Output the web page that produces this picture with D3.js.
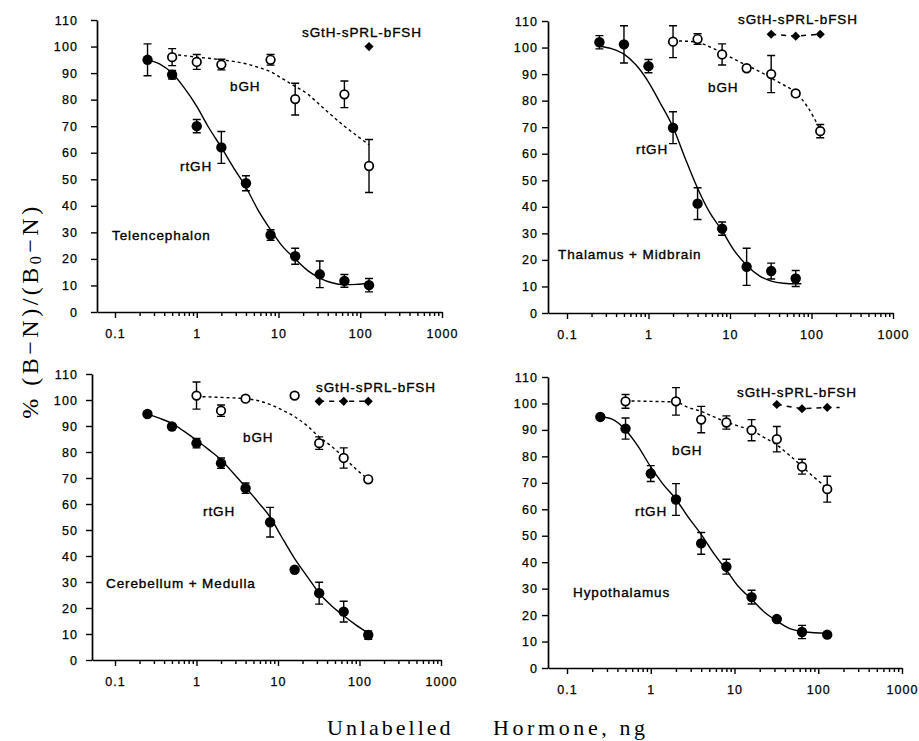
<!DOCTYPE html>
<html><head><meta charset="utf-8">
<script src="https://cdn.jsdelivr.net/npm/d3@7"></script>
<style>body{margin:0;background:#fff}svg{display:block}</style>
</head><body>
<svg id="chart" width="919" height="741"></svg>
<script>
// ---------- DATA ----------
const panelNames = ["Telencephalon", "Thalamus + Midbrain", "Cerebellum + Medulla", "Hypothalamus"];
const seriesNames = ["rtGH", "bGH", "sGtH-sPRL-bFSH"];
const xTickValues = [0.1, 1, 10, 100, 1000];
const xTickLabels = ["0.1", "1", "10", "100", "1000"];
const yTickValues = [0, 10, 20, 30, 40, 50, 60, 70, 80, 90, 100, 110];

// Telencephalon
const telRtDoses = [0.25, 0.5, 1, 2, 4, 8, 16, 32, 64, 128];
const telRtMean = [95, 89.4, 70, 62, 48.5, 29, 21, 14.2, 11.7, 10.1];
const telRtErr = [6, 1.6, 2.5, 6, 2.8, 2, 3, 5, 2.4, 2.5];
const telBgDoses = [0.5, 1, 2, 8, 16, 64, 128];
const telBgMean = [96, 94.2, 93.2, 95, 80.2, 82, 55];
const telBgErr = [3.2, 2.8, 2, 2, 6, 5, 10];
const telSgDoses = [128];
const telSgMean = [100];
const telRtCurve = [[0.25,95],[0.35,93.5],[0.5,90],[0.7,84.5],[1,77.5],[1.4,69.5],[2,62],[2.8,54.5],[4,47],[5.6,38.5],[8,31],[11,25],[16,20],[23,15.5],[32,12.8],[45,11],[64,10.3],[90,10.4],[128,10.9]];
const telBgCurve = [[0.5,97],[0.7,96.6],[1,96],[1.4,95.6],[2,95],[2.8,94.4],[4,93.5],[5.6,92.2],[8,90.5],[11,88],[16,85],[23,82],[32,78],[45,74],[64,70],[90,66.5],[128,63]];
const telSgCurve = [];

// Thalamus + Midbrain
const thaRtDoses = [0.25, 0.5, 1, 2, 4, 8, 16, 32, 64];
const thaRtMean = [102, 101.2, 93, 69.8, 41.2, 31.8, 17.4, 15.8, 13];
const thaRtErr = [2.5, 7, 2.5, 6, 6, 2.5, 7, 3, 3];
const thaBgDoses = [2, 4, 8, 16, 32, 64, 128];
const thaBgMean = [102.2, 103.2, 97.4, 92.2, 90, 82.7, 68.5];
const thaBgErr = [6, 2, 4, 1, 7, 1, 2.5];
const thaSgDoses = [32, 64, 128];
const thaSgMean = [105, 104.3, 105];
const thaRtCurve = [[0.25,100.5],[0.35,99.6],[0.5,97.5],[0.7,93.5],[1,87],[1.4,79],[2,70],[2.8,58.5],[4,47],[5.6,38],[8,31],[11,24],[16,18],[23,14],[32,12],[45,11.2],[64,11],[75,11]];
const thaBgCurve = [[2,102.5],[2.8,102.4],[4,102],[5.6,100.3],[8,98],[11,95.8],[16,93.3],[23,91],[32,88.5],[45,86],[64,83],[90,77.5],[128,69]];
const thaSgCurve = [[32,105],[64,104.3],[128,105]];

// Cerebellum + Medulla
const cerRtDoses = [0.25, 0.5, 1, 2, 4, 8, 16, 32, 64, 128];
const cerRtMean = [94.6, 89.8, 83.4, 75.7, 66.1, 53, 34.7, 25.7, 18.6, 9.6];
const cerRtErr = [0, 0, 1.8, 2, 2, 5.7, 0, 4.2, 4, 1.6];
const cerBgDoses = [1, 2, 4, 16, 32, 64, 128];
const cerBgMean = [101.7, 95.9, 100.5, 101.7, 83.4, 77.7, 69.5];
const cerBgErr = [5.2, 2.2, 1, 1, 2.4, 3.9, 1];
const cerSgDoses = [32, 64, 128];
const cerSgMean = [99.5, 99.5, 99.5];
const cerRtCurve = [[0.25,94.6],[0.35,93],[0.5,91],[0.7,88],[1,84.5],[1.4,81],[2,77],[2.8,72],[4,66.5],[5.6,61],[8,55],[11,47.5],[16,39],[23,32],[32,25.7],[45,21],[64,17],[90,13.5],[128,10.3]];
const cerBgCurve = [[1,101.3],[1.4,101.2],[2,101],[2.8,100.8],[4,100.5],[5.6,99.8],[8,98.3],[11,96.3],[16,93.6],[23,90],[32,85.8],[45,82.3],[64,78],[90,73.5],[128,69.5]];
const cerSgCurve = [[32,99.5],[64,99.5],[128,99.5]];

// Hypothalamus
const hypRtDoses = [0.25, 0.5, 1, 2, 4, 8, 16, 32, 64, 128];
const hypRtMean = [94.9, 90.5, 73.5, 63.7, 47.1, 38.3, 26.8, 18.5, 13.6, 12.6];
const hypRtErr = [0, 4, 3, 6, 4.1, 2.8, 2.6, 0, 2.5, 0];
const hypBgDoses = [0.5, 2, 4, 8, 16, 32, 64, 128];
const hypBgMean = [100.8, 100.8, 93.9, 92.8, 89.9, 86.5, 76.1, 67.6];
const hypBgErr = [2.6, 5.2, 5, 2.5, 4, 4.8, 2.8, 4.9];
const hypSgDoses = [32, 64, 128];
const hypSgMean = [99.6, 98, 98.5];
const hypRtCurve = [[0.25,95],[0.35,94],[0.5,90],[0.7,84],[1,76],[1.4,69.5],[2,63.8],[2.8,57],[4,50.5],[5.6,43.5],[8,37],[11,31],[16,26],[23,21],[32,17.8],[45,15],[64,13.8],[90,13.3],[128,13.2]];
const hypBgCurve = [[0.5,101],[0.7,100.9],[1,100.8],[1.4,100.7],[2,100.5],[2.8,98.5],[4,97],[5.6,95],[8,93],[11,91.5],[16,89.8],[23,87],[32,84.3],[45,80.5],[64,76.2],[90,72],[128,68]];
const hypSgCurve = [[32,99.6],[64,98],[128,98.5],[180,98.5]];

// ---------- LAYOUT ----------
const panels = [
  {name: panelNames[0], rt:[telRtDoses,telRtMean,telRtErr], bg:[telBgDoses,telBgMean,telBgErr], sg:[telSgDoses,telSgMean],
   curves:[telRtCurve,telBgCurve,telSgCurve],
   left:97, x01:115, x1000:442, top:20, bottom:312, yPad:13,
   labels:{sg:[302,37], bg:[230,91], rt:[180,171], name:[112,240]}},
  {name: panelNames[1], rt:[thaRtDoses,thaRtMean,thaRtErr], bg:[thaBgDoses,thaBgMean,thaBgErr], sg:[thaSgDoses,thaSgMean],
   curves:[thaRtCurve,thaBgCurve,thaSgCurve],
   left:548, x01:567, x1000:893, top:21, bottom:313, yPad:4,
   labels:{sg:[738,24], bg:[708,92], rt:[636,154], name:[558,259]}},
  {name: panelNames[2], rt:[cerRtDoses,cerRtMean,cerRtErr], bg:[cerBgDoses,cerBgMean,cerBgErr], sg:[cerSgDoses,cerSgMean],
   curves:[cerRtCurve,cerBgCurve,cerSgCurve],
   left:92, x01:115, x1000:441, top:374, bottom:660, yPad:8,
   labels:{sg:[316,392], bg:[243,442], rt:[203,516], name:[106,588]}},
  {name: panelNames[3], rt:[hypRtDoses,hypRtMean,hypRtErr], bg:[hypBgDoses,hypBgMean,hypBgErr], sg:[hypSgDoses,hypSgMean],
   curves:[hypRtCurve,hypBgCurve,hypSgCurve],
   left:548, x01:567, x1000:902, top:377, bottom:668, yPad:4,
   labels:{sg:[737,397], bg:[672,455], rt:[635,516], name:[573,597]}}
];

const svg = d3.select("#chart");
const labelFont = "'Liberation Sans', Arial, sans-serif";

const minorTicks = [];
[0.1, 1, 10, 100].forEach(dec => { for (let k = 2; k <= 9; k++) minorTicks.push(dec * k); });

panels.forEach(p => {
  const g = svg.append("g");
  const x0 = d3.scaleLog().domain([0.1, 1000]).range([p.x01, p.x1000]);
  const x = d3.scaleLog().domain([x0.invert(p.left), 1000]).range([p.left, p.x1000]);
  const y = d3.scaleLinear().domain([0, 110]).range([p.bottom, p.top]);

  g.append("g").attr("transform", `translate(0,${p.bottom})`)
    .call(d3.axisBottom(x).tickValues(xTickValues).tickFormat((d, i) => xTickLabels[i])
      .tickSize(6).tickSizeOuter(0).tickPadding(11));
  g.append("g").attr("transform", `translate(0,${p.bottom})`)
    .call(d3.axisBottom(x).tickValues(minorTicks).tickFormat("").tickSize(4).tickSizeOuter(0))
    .call(s => s.select(".domain").remove());
  g.append("g").attr("transform", `translate(${p.left},0)`)
    .call(d3.axisLeft(y).tickValues(yTickValues).tickSize(6).tickSizeOuter(0).tickPadding(p.yPad));

  g.selectAll(".domain").attr("stroke", "#000").attr("stroke-width", 1.7);
  g.selectAll(".tick line").attr("stroke", "#000").attr("stroke-width", 1.4);
  g.selectAll(".tick text").attr("fill", "#000").attr("font-family", labelFont)
    .attr("font-size", 12.5).attr("letter-spacing", 1.1)
    .attr("stroke", "#000").attr("stroke-width", 0.25);

  const line = d3.line().x(d => x(d[0])).y(d => y(d[1])).curve(d3.curveMonotoneX);

  g.append("path").datum(p.curves[0]).attr("d", line).attr("fill", "none")
    .attr("stroke", "#000").attr("stroke-width", 1.4);
  g.append("path").datum(p.curves[1]).attr("d", line).attr("fill", "none")
    .attr("stroke", "#000").attr("stroke-width", 1.4).attr("stroke-dasharray", "3,3");
  if (p.curves[2].length) {
    g.append("path").datum(p.curves[2]).attr("d", d3.line().x(d => x(d[0])).y(d => y(d[1])))
      .attr("fill", "none").attr("stroke", "#000").attr("stroke-width", 1.5).attr("stroke-dasharray", "5,5");
  }

  const drawErr = (ser) => {
    const [ds, ms, es] = ser;
    const rows = ds.map((d, i) => ({d, m: ms[i], e: es[i]})).filter(r => r.e > 0);
    const eg = g.append("g").attr("stroke", "#000").attr("stroke-width", 1.4).attr("fill", "none");
    rows.forEach(r => {
      const cx = x(r.d), y1 = y(r.m + r.e), y2 = y(r.m - r.e);
      eg.append("path").attr("d", `M${cx},${y1}V${y2}M${cx-4},${y1}H${cx+4}M${cx-4},${y2}H${cx+4}`);
    });
  };
  drawErr(p.rt);
  drawErr(p.bg);

  g.append("g").selectAll("circle").data(p.rt[0].map((d, i) => [d, p.rt[1][i]])).join("circle")
    .attr("cx", d => x(d[0])).attr("cy", d => y(d[1])).attr("r", 5.2).attr("fill", "#000");
  g.append("g").selectAll("circle").data(p.bg[0].map((d, i) => [d, p.bg[1][i]])).join("circle")
    .attr("cx", d => x(d[0])).attr("cy", d => y(d[1])).attr("r", 4.3)
    .attr("fill", "#fff").attr("stroke", "#000").attr("stroke-width", 1.7);
  const diamond = d3.symbol().type(d3.symbolSquare).size(42);
  g.append("g").selectAll("path").data(p.sg[0].map((d, i) => [d, p.sg[1][i]])).join("path")
    .attr("d", diamond).attr("fill", "#000")
    .attr("transform", d => `translate(${x(d[0])},${y(d[1])}) rotate(45)`);

  const txt = (pos, s) => g.append("text").attr("x", pos[0]).attr("y", pos[1]).text(s)
    .attr("font-family", labelFont).attr("font-size", 13.5).attr("letter-spacing", 0.9)
    .attr("fill", "#000").attr("stroke", "#000").attr("stroke-width", 0.35);
  txt(p.labels.sg, seriesNames[2]);
  txt(p.labels.bg, seriesNames[1]);
  txt(p.labels.rt, seriesNames[0]);
  txt(p.labels.name, p.name);
});

// axis titles
const serif = "'Liberation Serif', 'Times New Roman', serif";
const yt = svg.append("text").attr("transform", "translate(30,311) rotate(-90)")
  .attr("text-anchor", "middle").attr("dominant-baseline", "central")
  .attr("font-family", serif).attr("font-size", 24).attr("letter-spacing", 3.5).attr("fill", "#000");
yt.append("tspan").text("% (B\u2212N)/(B");
yt.append("tspan").attr("font-size", 16).attr("dy", 5).text("0");
yt.append("tspan").attr("dy", -5).text("\u2212N)");

svg.append("text").attr("x", 327).attr("y", 735).attr("font-family", serif)
  .attr("font-size", 22).attr("letter-spacing", 3).attr("fill", "#000").text("Unlabelled");
svg.append("text").attr("x", 493).attr("y", 735).attr("font-family", serif)
  .attr("font-size", 22).attr("letter-spacing", 3.6).attr("fill", "#000").text("Hormone, ng");
</script>
</body></html>
